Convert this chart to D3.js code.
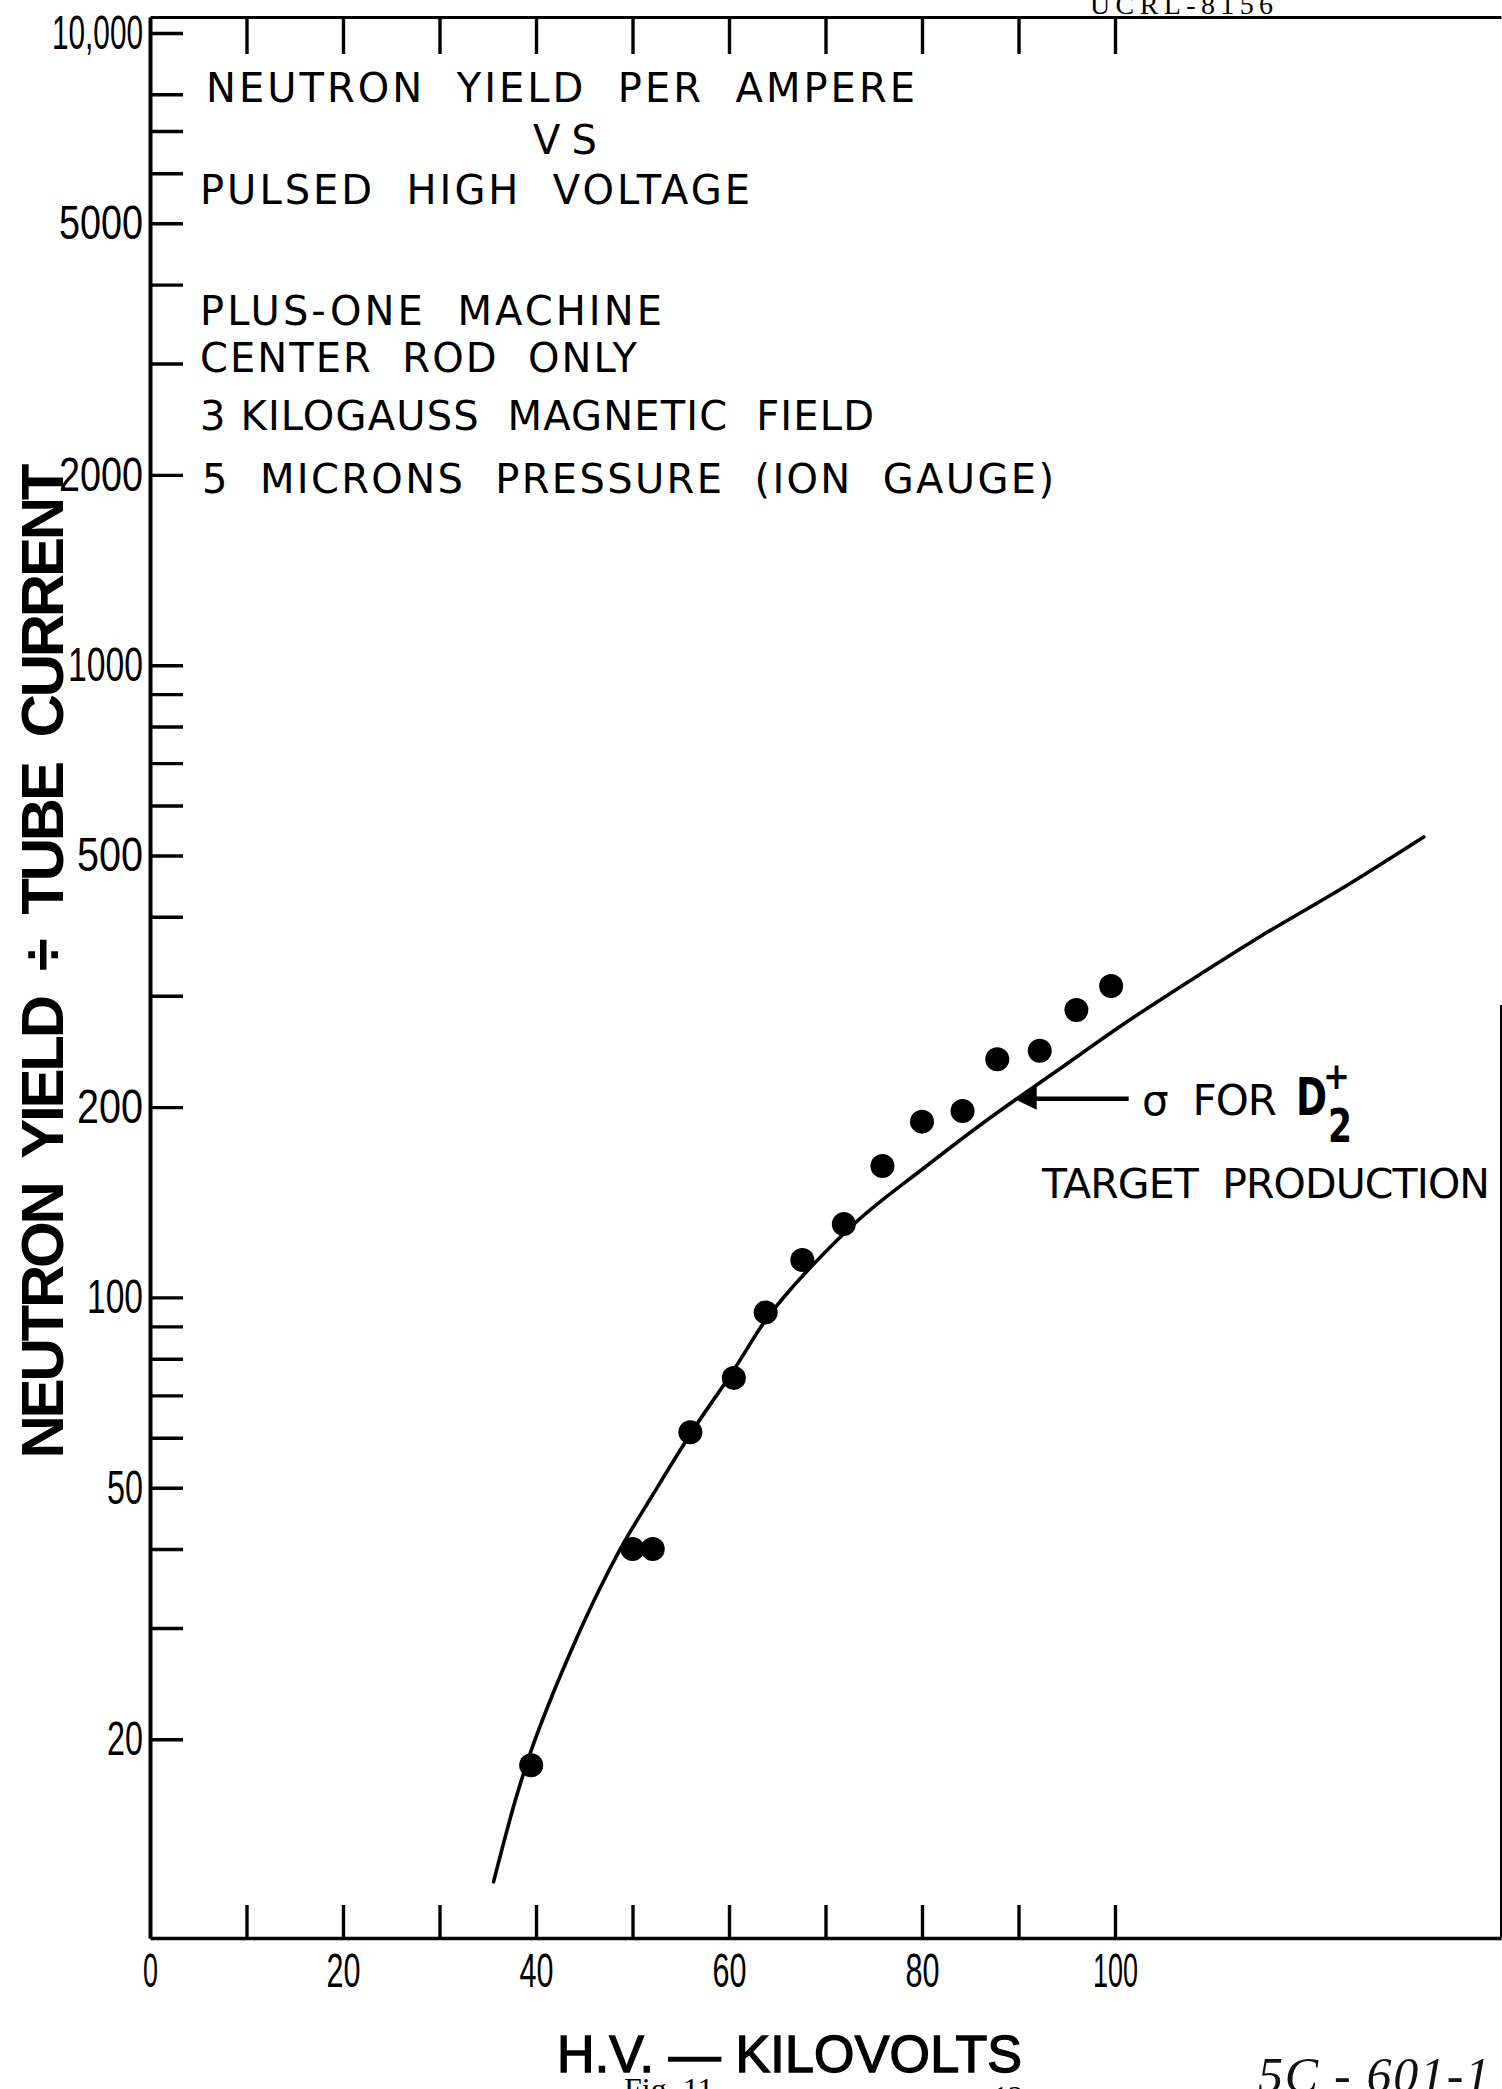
<!DOCTYPE html>
<html>
<head>
<meta charset="utf-8">
<title>Neutron yield per ampere vs pulsed high voltage</title>
<script src="https://cdn.jsdelivr.net/npm/d3@7"></script>
<style>
  html, body { margin: 0; padding: 0; background: #fff; }
  svg { display: block; background: #fff; }
  text { white-space: pre; }
</style>
</head>
<body>
<svg id="chart" width="1502" height="2089"></svg>
<script>
// ---- measured points: pulsed high voltage (kV) and neutron yield / tube current ----
const voltageKV   = [39.5, 50.0, 52.1, 56.0, 60.5, 63.8, 67.6, 71.9, 75.9, 80.0, 84.2, 87.8, 92.2, 96.0, 99.6];
const yieldPerAmp = [18.2, 40.0, 40.0, 61.2, 74.6, 94.7, 114.6, 130.6, 161.4, 189.7, 197.2, 238, 245.6, 284.9, 310.9];

// ---- calculated sigma curve for D2+ target production ----
const sigmaKV    = [35.6, 37.9, 39.5, 41.5, 43.9, 46.4, 48.7, 52.2, 56.0, 60.5, 63.8, 66.6, 68.8, 73.3, 80.2, 86.6, 94.1, 100.9, 107.9, 114.8, 124.1, 132.0];
const sigmaYield = [11.9, 16.1, 19.2, 23.1, 28.2, 34.1, 39.9, 49.0, 60.8, 76.8, 92.1, 103.9, 113.0, 132.1, 160.2, 190.1, 228.9, 270.7, 317.8, 370.3, 449.1, 535];

// point on the curve that the label arrow touches
const arrowKV = 89.5;
const arrowYield = 204;

// ---- axes ----
const xDomain = [0, 140];
const yDomain = [9.7, 10600];
const xLabelTicks = [0, 20, 40, 60, 80, 100];
const xMarkTicks  = [10, 20, 30, 40, 50, 60, 70, 80, 90, 100];
const yLabelTicks = [10000, 5000, 2000, 1000, 500, 200, 100, 50, 20];
const yMinorTicks = [8000, 7000, 6000, 4000, 3000, 900, 800, 700, 600, 400, 300, 90, 80, 70, 60, 40, 30];

// ---- text ----
const noteLines = [
  "NEUTRON  YIELD  PER  AMPERE",
  "VS",
  "PULSED  HIGH  VOLTAGE",
  "PLUS-ONE  MACHINE",
  "CENTER  ROD  ONLY",
  "3 KILOGAUSS  MAGNETIC  FIELD",
  "5  MICRONS  PRESSURE  (ION  GAUGE)"
];
const yTitle = "NEUTRON  YIELD  ÷  TUBE  CURRENT";
const xTitle = "H.V. — KILOVOLTS";

// ---- layout ----
const noteLayout = [
  { x: 206, y: 102, w: 709 },
  { x: 533, y: 154, w: 64 },
  { x: 200, y: 204, w: 550 },
  { x: 200, y: 325, w: 462 },
  { x: 200, y: 372, w: 437 },
  { x: 200, y: 430, w: 674 },
  { x: 202, y: 493, w: 852 }
];
const yLabelWidth = { 10000: 91, 5000: 84, 2000: 84, 1000: 75, 500: 66, 200: 66, 100: 56, 50: 36, 20: 36 };
const xLabelWidth = { 0: 15, 20: 34, 40: 34, 60: 34, 80: 34, 100: 45 };
const LETTER = "'DejaVu Sans', 'Liberation Sans', sans-serif";
const DIGITS = "'Liberation Sans', Arial, sans-serif";
const SERIF = "'Liberation Serif', 'DejaVu Serif', serif";

const svg = d3.select("#chart");

const x = d3.scaleLinear().domain(xDomain).range([150, 1501]);
const y = d3.scaleLog().domain(yDomain).range([1938, 17]);

const yTop = y(yDomain[1]);
const yBottom = y(yDomain[0]);

function styleAxis(g, width) {
  g.attr("font-family", null).attr("font-size", null);
  g.selectAll("path.domain").attr("stroke", "#000").attr("stroke-width", width);
  g.selectAll(".tick line").attr("stroke", "#000").attr("stroke-width", 3.4);
}

// top frame with tick marks hanging down
const topG = svg.append("g").attr("transform", `translate(0,${yTop})`)
  .call(d3.axisTop(x).tickValues(xMarkTicks).tickSize(-37).tickSizeOuter(0).tickFormat(""));
styleAxis(topG, 3);

// right frame edge
svg.append("line")
  .attr("x1", x(xDomain[1])).attr("x2", x(xDomain[1]))
  .attr("y1", y(290)).attr("y2", yBottom)
  .attr("stroke", "#000").attr("stroke-width", 2);

// bottom axis: tick marks every 10 kV
const botMarks = svg.append("g").attr("transform", `translate(0,${yBottom})`)
  .call(d3.axisBottom(x).tickValues(xMarkTicks).tickSize(-33).tickSizeOuter(0).tickFormat(""));
styleAxis(botMarks, 3.6);

// bottom axis labels every 20 kV
const botLabels = svg.append("g").attr("transform", `translate(0,${yBottom})`)
  .call(d3.axisBottom(x).tickValues(xLabelTicks).tickSize(0).tickPadding(15).tickFormat(d3.format("d")));
botLabels.select("path.domain").remove();
botLabels.attr("font-family", null).attr("font-size", null);
botLabels.selectAll("text")
  .attr("font-family", DIGITS).attr("font-size", 48).attr("fill", "#000")
  .attr("textLength", d => xLabelWidth[d]).attr("lengthAdjust", "spacingAndGlyphs");

// left axis, log scale
const fmtY = d => d === 10000 ? "10,000" : String(d);
const leftG = svg.append("g").attr("transform", `translate(${x(0)},0)`)
  .call(d3.axisLeft(y)
    .tickValues(yLabelTicks.concat(yMinorTicks))
    .tickSize(-33).tickSizeOuter(0).tickPadding(7)
    .tickFormat(d => yLabelTicks.includes(d) ? fmtY(d) : ""));
styleAxis(leftG, 4);
leftG.selectAll("text")
  .attr("font-family", DIGITS).attr("font-size", 48).attr("fill", "#000")
  .filter(d => yLabelTicks.includes(d))
  .attr("textLength", d => yLabelWidth[d]).attr("lengthAdjust", "spacingAndGlyphs");

// sigma curve
const line = d3.line()
  .x(d => x(d[0]))
  .y(d => y(d[1]))
  .curve(d3.curveMonotoneX);
svg.append("path")
  .datum(d3.zip(sigmaKV, sigmaYield))
  .attr("d", line)
  .attr("fill", "none")
  .attr("stroke", "#000")
  .attr("stroke-width", 3.6)
  .attr("stroke-linecap", "round");

// measured points
svg.append("g").selectAll("circle")
  .data(d3.zip(voltageKV, yieldPerAmp))
  .join("circle")
  .attr("cx", d => x(d[0]))
  .attr("cy", d => y(d[1]))
  .attr("r", 12)
  .attr("fill", "#000");

// arrow pointing at the curve
const ax = x(arrowKV), ay = y(arrowYield) - 3;
svg.append("path")
  .attr("d", `M${ax},${ay} L${ax + 23},${ay - 12} L${ax + 23},${ay + 11} Z`)
  .attr("fill", "#000");
svg.append("line")
  .attr("x1", ax + 20).attr("x2", ax + 115)
  .attr("y1", ay).attr("y2", ay)
  .attr("stroke", "#000").attr("stroke-width", 4.5);

// curve label
svg.append("text").attr("x", 1142).attr("y", 1115)
  .attr("font-family", LETTER).attr("font-size", 42).attr("fill", "#000")
  .attr("textLength", 135).attr("lengthAdjust", "spacing")
  .text("σ  FOR");
svg.append("text").attr("x", 1296).attr("y", 1115)
  .attr("font-family", LETTER).attr("font-size", 52).attr("font-weight", "bold").attr("fill", "#000")
  .attr("textLength", 31).attr("lengthAdjust", "spacingAndGlyphs")
  .text("D");
svg.append("text").attr("x", 1323).attr("y", 1089)
  .attr("font-family", LETTER).attr("font-size", 38).attr("font-weight", "bold").attr("fill", "#000")
  .attr("textLength", 27).attr("lengthAdjust", "spacingAndGlyphs")
  .text("+");
svg.append("text").attr("x", 1328).attr("y", 1142)
  .attr("font-family", LETTER).attr("font-size", 46).attr("font-weight", "bold").attr("fill", "#000")
  .attr("textLength", 24).attr("lengthAdjust", "spacingAndGlyphs")
  .text("2");
svg.append("text").attr("x", 1042).attr("y", 1198)
  .attr("font-family", LETTER).attr("font-size", 41).attr("fill", "#000")
  .attr("textLength", 448).attr("lengthAdjust", "spacing")
  .text("TARGET  PRODUCTION");

// title and run conditions
svg.append("g").selectAll("text")
  .data(noteLines)
  .join("text")
  .attr("x", (d, i) => noteLayout[i].x)
  .attr("y", (d, i) => noteLayout[i].y)
  .attr("textLength", (d, i) => noteLayout[i].w)
  .attr("lengthAdjust", "spacing")
  .attr("font-family", LETTER)
  .attr("font-size", 40)
  .attr("fill", "#000")
  .text(d => d);

// axis titles
svg.append("text")
  .attr("transform", "translate(63,961) rotate(-90)")
  .attr("text-anchor", "middle")
  .attr("font-family", DIGITS).attr("font-size", 60).attr("font-weight", "bold").attr("fill", "#000")
  .attr("textLength", 995).attr("lengthAdjust", "spacing")
  .text(yTitle);
svg.append("text")
  .attr("x", 557).attr("y", 2072)
  .attr("font-family", DIGITS).attr("font-size", 52).attr("fill", "#000")
  .attr("stroke", "#000").attr("stroke-width", 1.4)
  .attr("textLength", 465).attr("lengthAdjust", "spacing")
  .text(xTitle);

// report number, figure caption and file note
svg.append("text").attr("x", 1090).attr("y", 14)
  .attr("font-family", SERIF).attr("font-size", 28).attr("fill", "#000")
  .attr("textLength", 183).attr("lengthAdjust", "spacing")
  .text("UCRL-8156");
svg.append("text").attr("x", 624).attr("y", 2100)
  .attr("font-family", SERIF).attr("font-size", 32).attr("fill", "#000")
  .text("Fig. 11");
svg.append("text").attr("x", 993).attr("y", 2106)
  .attr("font-family", SERIF).attr("font-size", 30).attr("fill", "#000")
  .text("12");
svg.append("text").attr("x", 1258).attr("y", 2092)
  .attr("font-family", SERIF).attr("font-style", "italic").attr("font-size", 50).attr("fill", "#111")
  .attr("textLength", 232).attr("lengthAdjust", "spacing")
  .text("5C - 601-1");
</script>
</body>
</html>
